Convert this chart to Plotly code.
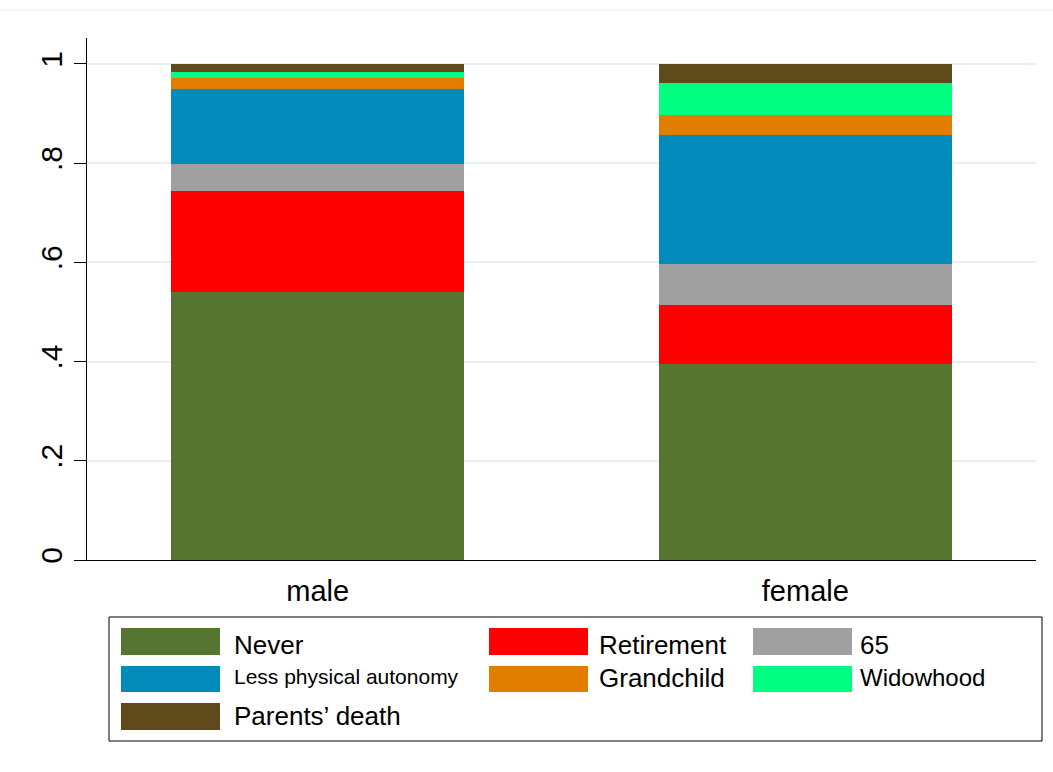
import plotly.graph_objects as go

categories = ["male", "female"]
series_names = ["Never", "Retirement", "65", "Less physical autonomy",
                "Grandchild", "Widowhood", "Parents’ death"]
never = [0.541, 0.395]
retirement = [0.203, 0.118]
age65 = [0.055, 0.084]
less_physical = [0.151, 0.260]
grandchild = [0.021, 0.040]
widowhood = [0.013, 0.064]
parents_death = [0.016, 0.039]
values = [never, retirement, age65, less_physical, grandchild, widowhood, parents_death]
colors = ["#557530", "#ff0000", "#a0a0a0", "#028abb", "#e17d00", "#00ff80", "#5e4a1a"]
ytick_vals = [0, 0.2, 0.4, 0.6, 0.8, 1]
ytick_text = ["0", ".2", ".4", ".6", ".8", "1"]

W, H = 1053, 772
L, R, T, B = 87, 1036, 38, 560

fig = go.Figure()
for name, vals, col in zip(series_names, values, colors):
    fig.add_trace(go.Bar(x=categories, y=vals, name=name, marker_color=col,
                         marker_line_width=0, width=0.6, showlegend=False))

fig.update_layout(
    barmode="stack",
    width=W, height=H,
    margin=dict(l=L, r=W - R, t=T, b=H - B),
    paper_bgcolor="white", plot_bgcolor="white",
    font=dict(family="Liberation Sans, Arial, sans-serif", color="black"),
    xaxis=dict(range=[-0.473, 1.473], showline=True, linecolor="black", linewidth=1,
               ticks="", tickfont=dict(size=29), showgrid=False, zeroline=False,
               ticklabelstandoff=5),
    yaxis=dict(range=[0, 1.052], tickvals=ytick_vals, ticktext=ytick_text,
               tickangle=-90, tickfont=dict(size=30), ticks="outside", ticklen=12,
               tickcolor="black", showline=True, linecolor="black", linewidth=1,
               showgrid=True, gridcolor="#e9f0f3", gridwidth=2, zeroline=False),
)

def px(x):
    return (x - L) / (R - L)

def py(y):
    return (B - y) / (B - T)

shapes = []
annotations = []
# top faint line
shapes.append(dict(type="line", xref="paper", yref="paper", x0=px(0), x1=px(W),
                   y0=py(10), y1=py(10), line=dict(color="#ececec", width=1)))
# legend box
shapes.append(dict(type="rect", xref="paper", yref="paper", x0=px(109), x1=px(1042),
                   y0=py(741), y1=py(617), line=dict(color="black", width=1),
                   fillcolor="rgba(0,0,0,0)"))
legend_items = [
    (0, 121, 628, 655, 232, 26, 645),
    (1, 489, 628, 655, 597, 26, 645),
    (2, 753, 628, 655, 858, 26, 645),
    (3, 121, 666, 692, 232, 21, 676),
    (4, 489, 666, 692, 597, 26, 678),
    (5, 753, 666, 692, 858, 24, 677),
    (6, 121, 703, 730, 232, 26, 716),
]
for idx, sx, y0, y1, tx, fs, ty in legend_items:
    shapes.append(dict(type="rect", xref="paper", yref="paper", x0=px(sx), x1=px(sx + 99),
                       y0=py(y1), y1=py(y0), fillcolor=colors[idx], line=dict(width=0)))
    annotations.append(dict(xref="paper", yref="paper", x=px(tx), y=py(ty),
                            text=series_names[idx], showarrow=False, xanchor="left",
                            yanchor="middle", font=dict(size=fs, color="black")))
fig.update_layout(shapes=shapes, annotations=annotations)

fig.write_html("out.html")
